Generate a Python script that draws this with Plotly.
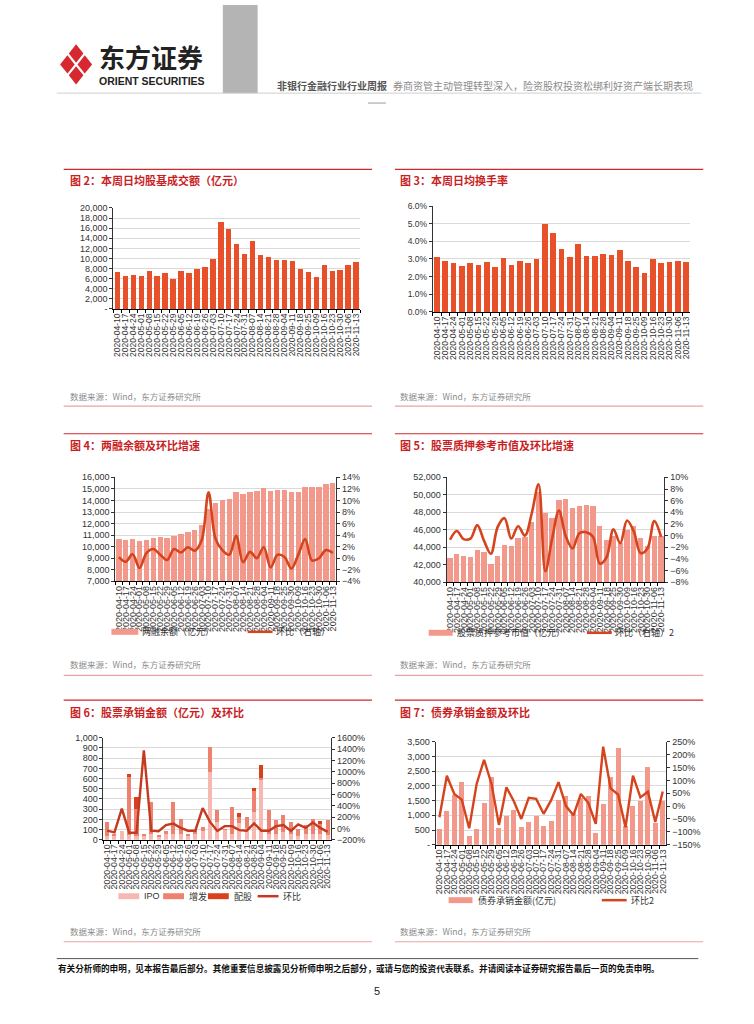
import plotly.graph_objects as go

W, H = 754, 1024
def px(x): return x / W
def py(y): return 1 - y / H

NUM = "Liberation Sans, Arial, Noto Sans CJK SC"
CJK = "Noto Sans CJK SC, Liberation Sans"

# ---------------- data ----------------
dates31 = ["2020-04-10","2020-04-17","2020-04-24","2020-05-01","2020-05-08","2020-05-15",
           "2020-05-22","2020-05-29","2020-06-05","2020-06-12","2020-06-19","2020-06-26",
           "2020-07-03","2020-07-10","2020-07-17","2020-07-24","2020-07-31","2020-08-07",
           "2020-08-14","2020-08-21","2020-08-28","2020-09-04","2020-09-11","2020-09-18",
           "2020-09-25","2020-10-09","2020-10-16","2020-10-23","2020-10-30","2020-11-06",
           "2020-11-13"]
dates32 = dates31[:25] + ["2020-09-30"] + dates31[25:]

# 图2 本周日均股基成交额（亿元）
turnover_amt = [7300, 6500, 6650, 6500, 7500, 6600, 7050, 5900, 7600, 7100, 7950, 8270,
                9840, 17260, 15900, 12900, 10800, 13480, 10750, 10230, 9640, 9770, 9580,
                8010, 7230, 6380, 8790, 7430, 7750, 8660, 9380]
# 图3 本周日均换手率
turnover_rate = [0.0313, 0.0290, 0.0279, 0.0262, 0.0279, 0.0268, 0.0281, 0.0253, 0.0307,
                 0.0268, 0.0287, 0.0276, 0.0298, 0.0499, 0.0449, 0.0359, 0.0313, 0.0385,
                 0.0318, 0.0318, 0.0330, 0.0324, 0.0352, 0.0290, 0.0253, 0.0222, 0.0298,
                 0.0276, 0.0281, 0.0289, 0.0285]
# 图4 两融余额及环比
margin_bal = [10630, 10570, 10660, 10490, 10600, 10770, 10800, 10770, 10940, 11110, 11290,
              11460, 11910, 13260, 13800, 14060, 14140, 14690, 14600, 14770, 14800, 15110,
              14860, 14940, 14940, 14690, 14690, 15200, 15170, 15170, 15400, 15540]
margin_chg = [0.002, -0.006, 0.007, -0.017, 0.009, 0.016, 0.006, -0.003, 0.016, 0.010,
              0.019, 0.013, 0.031, 0.114, 0.034, 0.014, 0.006, 0.039, -0.007, 0.011,
              0.000, 0.019, -0.016, 0.006, 0.002, -0.018, 0.006, 0.033, -0.004, 0.000,
              0.014, 0.009]
# 图5 股票质押参考市值及环比
pledge_val = [42810, 43190, 43000, 42930, 43730, 43420, 42130, 43000, 44300, 44180, 45020,
              45130, 46880, 50300, 47870, 47300, 49430, 49500, 48480, 48700, 48860, 48780,
              46390, 44790, 45320, 44500, 45930, 46390, 45100, 44180, 45320, 45250]
pledge_chg = [-0.007, 0.008, -0.006, -0.005, 0.018, -0.009, -0.031, 0.015, 0.030, -0.005,
              0.016, 0.000, 0.038, 0.088, -0.061, -0.005, 0.043, -0.001, -0.022, 0.004,
              0.006, -0.002, -0.048, -0.037, 0.011, -0.013, 0.026, 0.007, -0.030, -0.022,
              0.025, -0.002]
# 图6 股票承销金额（亿元）及环比
ipo = [40, 45, 85, 50, 40, 45, 60, 35, 60, 60, 60, 45, 60, 90, 660, 175, 100, 60, 160, 120,
       270, 590, 60, 60, 80, 60, 40, 60, 60, 60, 50]
zengfa = [130, 15, 0, 570, 260, 15, 310, 15, 25, 310, 140, 15, 35, 40, 245, 120, 5, 260, 65,
          105, 205, 20, 235, 130, 165, 115, 70, 80, 145, 105, 145]
peigu = [0, 0, 0, 20, 115, 0, 0, 0, 0, 0, 0, 0, 0, 0, 0, 0, 0, 0, 40, 0, 35, 120, 0, 0, 0,
         0, 0, 0, 0, 15, 0]
equity_chg = [-0.40, -0.70, 3.50, -0.75, -0.75, 13.80, -0.40, -0.50, 0.60, 0.85, 0.10,
              -0.40, -0.40, 3.60, 1.15, -0.45, 0.40, 0.40, -0.30, -0.40, 0.90, -0.40,
              -0.40, 0.40, 0.60, -0.45, 0.70, 0.10, 1.05, 0.10, -0.60]
# 图7 债券承销金额及环比
bond_amt = [540, 1160, 1690, 2130, 280, 520, 1410, 2290, 560, 970, 1170, 590, 770, 960, 620,
            790, 1530, 1650, 1080, 1580, 1670, 410, 1370, 2310, 3280, 650, 1320, 1500, 2630,
            750, 1500]
bond_chg = [-0.43, 1.18, 0.47, 0.25, -0.86, 0.86, 1.80, 0.86, -0.73, 0.73, 0.19, -0.50,
            0.32, 0.28, -0.30, 0.22, 0.93, 0.00, -0.36, 0.47, 0.13, -0.69, 2.31, 0.69, 0.45,
            -0.82, 1.18, 0.34, 0.56, -0.62, 0.57]

# ---------------- colors ----------------
ORANGE = "#E8502A"
SALMON = "#F2998C"
LINE = "#D5441C"
IPO_C = "#F6B9B1"
ZF_C = "#EE8270"
PG_C = "#D8401E"
LINE5 = "#C33A1E"
GRID = "#DADADA"
TXT = "#333333"
TITLE_RED = "#C81E24"

fig = go.Figure()

fig.add_trace(go.Bar(x=dates31, y=turnover_amt, marker_color=ORANGE, marker_line_width=0,
                     width=0.68, xaxis="x", yaxis="y", showlegend=False))
fig.add_trace(go.Bar(x=dates31, y=turnover_rate, marker_color=ORANGE, marker_line_width=0,
                     width=0.68, xaxis="x2", yaxis="y2", showlegend=False))
fig.add_trace(go.Bar(x=dates32, y=margin_bal, marker_color=SALMON, marker_line_width=0,
                     width=0.78, xaxis="x3", yaxis="y3", showlegend=False))
fig.add_trace(go.Scatter(x=dates32, y=margin_chg, mode="lines",
                         line=dict(color=LINE, width=2.6, shape="spline", smoothing=1.0),
                         xaxis="x3", yaxis="y4", showlegend=False))
fig.add_trace(go.Bar(x=dates32, y=pledge_val, marker_color=SALMON, marker_line_width=0,
                     width=0.78, xaxis="x4", yaxis="y5", showlegend=False))
fig.add_trace(go.Scatter(x=dates32, y=pledge_chg, mode="lines",
                         line=dict(color=LINE, width=2.6, shape="spline", smoothing=1.0),
                         xaxis="x4", yaxis="y6", showlegend=False))
fig.add_trace(go.Bar(x=dates31, y=ipo, marker_color=IPO_C, marker_line_width=0,
                     width=0.55, xaxis="x5", yaxis="y7", showlegend=False))
fig.add_trace(go.Bar(x=dates31, y=zengfa, marker_color=ZF_C, marker_line_width=0,
                     width=0.55, xaxis="x5", yaxis="y7", showlegend=False))
fig.add_trace(go.Bar(x=dates31, y=peigu, marker_color=PG_C, marker_line_width=0,
                     width=0.55, xaxis="x5", yaxis="y7", showlegend=False))
fig.add_trace(go.Scatter(x=dates31, y=equity_chg, mode="lines",
                         line=dict(color=LINE5, width=2.4),
                         xaxis="x5", yaxis="y8", showlegend=False))
fig.add_trace(go.Bar(x=dates31, y=bond_amt, marker_color=SALMON, marker_line_width=0,
                     width=0.68, xaxis="x6", yaxis="y9", showlegend=False))
fig.add_trace(go.Scatter(x=dates31, y=bond_chg, mode="lines",
                         line=dict(color=LINE, width=2.4),
                         xaxis="x6", yaxis="y10", showlegend=False))


def xcat(x0, x1, cats, anchor, size=8.5):
    return dict(domain=[px(x0), px(x1)], type="category", anchor=anchor,
                tickmode="array", tickvals=cats, ticktext=cats, tickangle=-90,
                tickfont=dict(size=size, family=NUM, color=TXT),
                showline=True, linecolor="#000", linewidth=1.2,
                ticks="outside", tickson="boundaries", ticklen=3, tickcolor="#000",
                showgrid=False, range=[-0.5, len(cats) - 0.5], fixedrange=True)


def yleft(y_top, y_bot, anchor, rng, dtick, fmt=None, tickvals=None, ticktext=None, size=9):
    d = dict(domain=[py(y_bot), py(y_top)], anchor=anchor, range=rng, dtick=dtick,
             tickfont=dict(size=size, family=NUM, color=TXT),
             showline=True, linecolor="#333", linewidth=1,
             ticks="outside", ticklen=3, tickcolor="#333",
             showgrid=True, gridcolor=GRID, gridwidth=1, zeroline=False, fixedrange=True)
    if fmt:
        d["tickformat"] = fmt
    if tickvals is not None:
        d["tickmode"] = "array"
        d["tickvals"] = tickvals
        d["ticktext"] = ticktext
    return d


def yright(over, anchor, rng, dtick, fmt, size=9):
    return dict(overlaying=over, anchor=anchor, side="right", range=rng, dtick=dtick,
                tickformat=fmt, tickfont=dict(size=size, family=NUM, color=TXT),
                showline=True, linecolor="#333", linewidth=1,
                ticks="outside", ticklen=3, tickcolor="#333",
                showgrid=False, zeroline=False, fixedrange=True)


y1_vals = list(range(0, 20001, 2000))
y1_text = ["-"] + [f"{v:,}" for v in y1_vals[1:]]
y6_vals = list(range(0, 3501, 500))
y6_text = ["-"] + [f"{v:,}" for v in y6_vals[1:]]

fig.update_layout(
    width=W, height=H, margin=dict(l=0, r=0, t=0, b=0),
    paper_bgcolor="white", plot_bgcolor="white",
    barmode="stack", showlegend=False,
    font=dict(family=NUM, color=TXT),
    xaxis=xcat(112, 360, dates31, "y"),
    yaxis=yleft(205, 307, "x", [0, 20000], 2000, tickvals=y1_vals, ticktext=y1_text),
    xaxis2=xcat(433, 692, dates31, "y2"),
    yaxis2=yleft(203, 310, "x2", [0, 0.06], 0.01, fmt=".1%", size=8.5),
    xaxis3=xcat(114, 336, dates32, "y3", size=9),
    yaxis3=yleft(477, 582, "x3", [7000, 16000], 1000, fmt=","),
    yaxis4=yright("y3", "x3", [-0.04, 0.14], 0.02, ".0%"),
    xaxis4=xcat(447, 666, dates32, "y5", size=9),
    yaxis5=yleft(477, 583, "x4", [40000, 52000], 2000, fmt=","),
    yaxis6=yright("y5", "x4", [-0.08, 0.10], 0.02, ".0%"),
    xaxis5=xcat(102, 331, dates31, "y7", size=8.8),
    yaxis7=yleft(740, 843, "x5", [0, 1000], 100, fmt=","),
    yaxis8=yright("y7", "x5", [-2, 16], 2, ".0%"),
    xaxis6=xcat(436, 668, dates31, "y9", size=8.8),
    yaxis9=yleft(744, 848, "x6", [0, 3500], 500, tickvals=y6_vals, ticktext=y6_text),
    yaxis10=yright("y9", "x6", [-1.5, 2.5], 0.5, ".0%"),
)

shapes = []
annots = []


def hline(x0, x1, y, color, width=1):
    shapes.append(dict(type="line", xref="paper", yref="paper", x0=px(x0), x1=px(x1),
                       y0=py(y), y1=py(y), line=dict(color=color, width=width)))


def rect(x0, y0, x1, y1, color):
    shapes.append(dict(type="rect", xref="paper", yref="paper", x0=px(x0), x1=px(x1),
                       y0=py(y1), y1=py(y0), fillcolor=color, line=dict(width=0)))


def text(x, y, s, size, color=TXT, bold=False, family=CJK, anchor="left"):
    if bold:
        s = f"<b>{s}</b>"
    annots.append(dict(xref="paper", yref="paper", x=px(x), y=py(y), text=s,
                       showarrow=False, xanchor=anchor, yanchor="middle", borderpad=0,
                       font=dict(size=size, color=color, family=family)))


# ---------------- header ----------------
rect(222, 0, 257, 89, "#B4B4B4")
hline(55, 703, 89, "#CFCFCF", 1)
hline(368, 386, 99, "#9A9A9A", 1)

# logo: four rhombi forming a split diamond
T, R, B, L = (74.5, 38), (92, 60), (74.5, 82), (57, 60)
mid = lambda a, b: ((a[0] + b[0]) / 2, (a[1] + b[1]) / 2)
C = (74.5, 60)
quads = [
    [T, mid(T, R), C, mid(T, L)],
    [mid(T, R), R, mid(R, B), C],
    [C, mid(R, B), B, mid(B, L)],
    [mid(T, L), C, mid(B, L), L],
]
for q in quads:
    qx = sum(p[0] for p in q) / 4
    qy = sum(p[1] for p in q) / 4
    pts = [(qx + (p[0] - qx) * 0.84, qy + (p[1] - qy) * 0.84) for p in q]
    path = "M " + " L ".join(f"{px(a):.5f},{py(b):.5f}" for a, b in pts) + " Z"
    shapes.append(dict(type="path", xref="paper", yref="paper", path=path,
                       fillcolor="#D7282F", line=dict(width=0)))

text(97, 52, "东方证券", 26, "#222222", bold=True)
text(97, 77, "ORIENT SECURITIES", 10.5, "#222222", bold=True, family=NUM)
text(275, 81, "非银行金融行业行业周报", 10, "#555555", bold=True)
text(392, 81, "券商资管主动管理转型深入，险资股权投资松绑利好资产端长期表现", 10, "#8A8A8A")

# ---------------- section frames ----------------
rows = [(166, 177, 395, 405), (433, 444, 665, 677), (702, 714, 935, 946)]
titles = [("图 2：本周日均股基成交额（亿元）", "图 3：本周日均换手率"),
          ("图 4：两融余额及环比增速", "图 5：股票质押参考市值及环比增速"),
          ("图 6：股票承销金额（亿元）及环比", "图 7：债券承销金额及环比")]
for (yl, yt, ys, yb), (tl, tr) in zip(rows, titles):
    hline(62, 372, yl, "#D0282E", 1.2)
    hline(395, 705, yl, "#D0282E", 1.2)
    text(67, yt, tl, 11, TITLE_RED, bold=True)
    text(399, yt, tr, 11, TITLE_RED, bold=True)
    text(67, ys, "数据来源：Wind，东方证券研究所", 8.5, "#8C8C8C")
    text(399, ys, "数据来源：Wind，东方证券研究所", 8.5, "#8C8C8C")
    hline(62, 372, yb, "#E9A3A3", 1.2)
    hline(395, 705, yb, "#E9A3A3", 1.2)

# ---------------- legends ----------------
def leg_box(x0, x1, y, color, h=6):
    rect(x0, y - h / 2, x1, y + h / 2, color)


def leg_line(x0, x1, y, color, w=2.5):
    hline(x0, x1, y, color, w)


leg_box(110, 137, 633, SALMON)
text(140, 633, "两融余额（亿元）", 9, TXT)
leg_line(247, 272, 633, LINE)
text(274, 633, "环比（右轴）", 9, TXT)

leg_box(429, 453, 634, SALMON)
text(456, 634, "股票质押参考市值（亿元）", 9, TXT)
leg_line(588, 613, 634, LINE)
text(615, 634, "环比（右轴）2", 9, TXT)

leg_box(117, 138, 900, IPO_C)
text(142, 900, "IPO", 9, TXT, family=NUM)
leg_box(162, 183, 900, ZF_C)
text(187, 900, "增发", 9, TXT)
leg_box(207, 228, 900, PG_C)
text(232, 900, "配股", 9, TXT)
leg_line(257, 278, 900, LINE5)
text(281, 900, "环比", 9, TXT)

leg_box(449, 473, 904, SALMON)
text(478, 904, "债券承销金额(亿元)", 9, TXT)
leg_line(603, 628, 904, LINE)
text(631, 904, "环比2", 9, TXT)

# ---------------- footer ----------------
hline(55, 700, 963, "#555555", 1)
text(55, 973, "有关分析师的申明，见本报告最后部分。其他重要信息披露见分析师申明之后部分，或请与您的投资代表联系。并请阅读本证券研究报告最后一页的免责申明。",
     8.6, "#111111", bold=True)
text(377, 996, "5", 11, "#222222", family=NUM, anchor="center")

fig.update_layout(shapes=shapes, annotations=annots)
fig.write_html("out.html", config={"displayModeBar": False},
               post_script="document.body.style.margin='0px';")
